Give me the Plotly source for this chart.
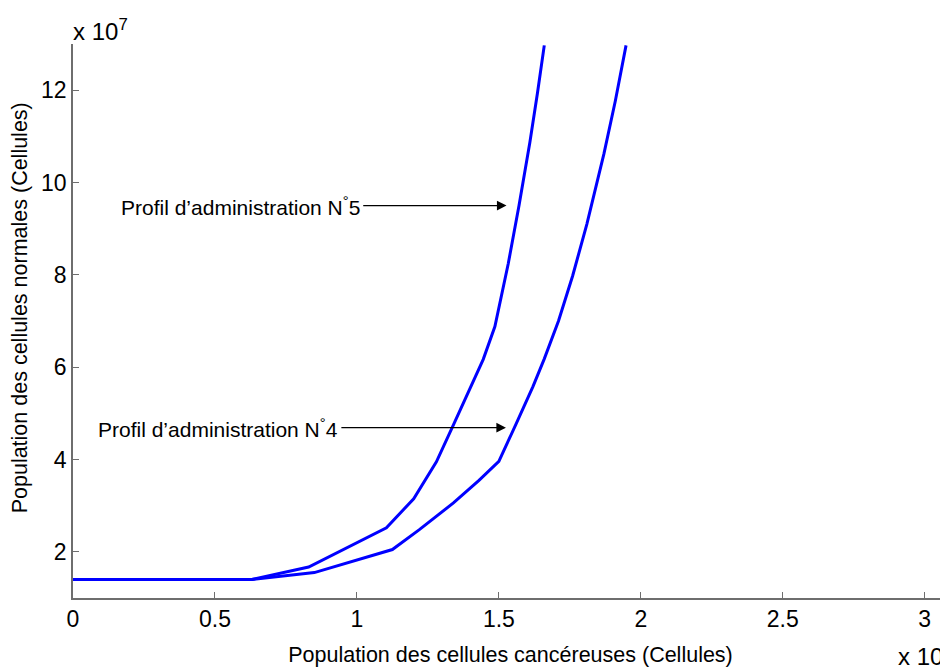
import plotly.graph_objects as go

# x in units of 1e8 cells, y in units of 1e7 cells
x_profil5 = [0, 0.63, 0.83, 1.104, 1.20, 1.28, 1.34, 1.40, 1.445, 1.486,
             1.503, 1.533, 1.571, 1.609, 1.636, 1.66]
y_profil5 = [1.4, 1.4, 1.67, 2.52, 3.15, 3.95, 4.75, 5.55, 6.17, 6.88,
             7.36, 8.24, 9.5, 10.86, 11.94, 12.97]

x_profil4 = [0, 0.63, 0.85, 1.125, 1.22, 1.34, 1.43, 1.50,
             1.56, 1.62, 1.66, 1.71, 1.76, 1.81, 1.87, 1.91, 1.948]
y_profil4 = [1.4, 1.4, 1.55, 2.05, 2.48, 3.06, 3.55, 3.96,
             4.76, 5.58, 6.18, 7.0, 7.98, 9.1, 10.62, 11.76, 12.97]

x_ticks = [0, 0.5, 1, 1.5, 2, 2.5, 3]
x_ticklabels = ["0", "0.5", "1", "1.5", "2", "2.5", "3"]
y_ticks = [2, 4, 6, 8, 10, 12]

# annotation arrows: (label, tail x, tip x, y)
arrows = [
    ("Profil d\u2019administration N<sup>\u00b0</sup>5", 1.017, 1.527, 9.50),
    ("Profil d\u2019administration N<sup>\u00b0</sup>4", 0.94, 1.525, 4.69),
]

FONT = "Arial, Liberation Sans, sans-serif"
blue = "rgb(0,0,255)"
axis_col = "#6e6e6e"

fig = go.Figure()
fig.add_trace(go.Scatter(x=x_profil5, y=y_profil5, mode="lines",
                         line=dict(color=blue, width=3), showlegend=False))
fig.add_trace(go.Scatter(x=x_profil4, y=y_profil4, mode="lines",
                         line=dict(color=blue, width=3), showlegend=False))

for label, tail, tip, yv in arrows:
    fig.add_annotation(x=tip, y=yv, ax=tail, ay=yv, xref="x", yref="y",
                       axref="x", ayref="y", text="", showarrow=True,
                       arrowhead=2, arrowsize=1.6, arrowwidth=1.2, arrowcolor="black")
    fig.add_annotation(x=tail, y=yv, xref="x", yref="y", text=label,
                       showarrow=False, xanchor="right", yanchor="middle",
                       font=dict(family=FONT, size=21, color="black"))

fig.add_annotation(x=-0.002, y=1.026, xref="paper", yref="paper", text="x 10<sup>7</sup>",
                   showarrow=False, xanchor="left", yanchor="middle",
                   font=dict(family=FONT, size=24, color="black"))
fig.add_annotation(x=0.94, y=-0.102, xref="paper", yref="paper", text="x 10<sup>8</sup>",
                   showarrow=False, xanchor="left", yanchor="middle",
                   font=dict(family=FONT, size=24, color="black"))

# y title as annotation, it sits a bit above the plot centre
fig.add_annotation(x=-0.061, y=0.524, xref="paper", yref="paper",
                   text="Population des cellules normales (Cellules)", textangle=-90,
                   showarrow=False, xanchor="center", yanchor="middle",
                   font=dict(family=FONT, size=21.5, color="black"))

# page body has an 8px margin, so the figure is 8px smaller on each side
fig.update_layout(
    width=940, height=659,
    margin=dict(l=65, r=0, t=36, b=69),
    plot_bgcolor="white", paper_bgcolor="white",
    font=dict(family=FONT, size=23, color="black"),
    xaxis=dict(range=[0, 3.082], tickvals=x_ticks, ticktext=x_ticklabels,
               showgrid=False, zeroline=False, showline=True, linecolor=axis_col,
               linewidth=1.5, ticks="inside", ticklen=6, tickcolor=axis_col,
               automargin=False,
               title=dict(text="Population des cellules canc\u00e9reuses (Cellules)",
                          font=dict(size=21.5), standoff=20)),
    yaxis=dict(range=[1, 13], tickvals=y_ticks, showgrid=False, zeroline=False,
               showline=True, linecolor=axis_col, linewidth=1.5, ticks="inside",
               ticklen=6, tickcolor=axis_col, automargin=False),
)

fig.write_html("out.html")
